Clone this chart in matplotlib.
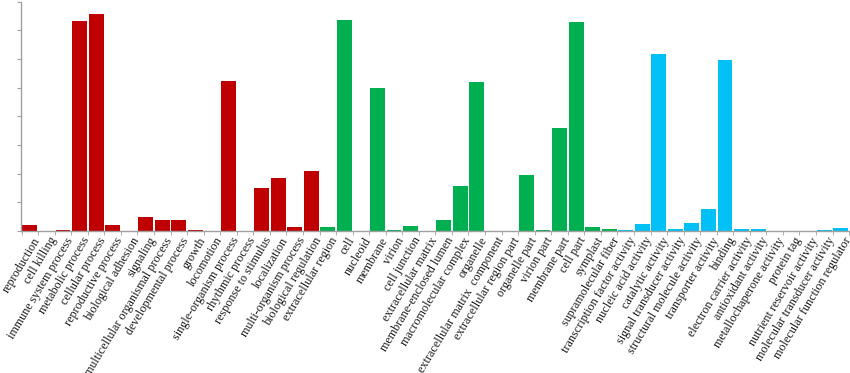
import matplotlib
matplotlib.use("Agg")
import matplotlib.pyplot as plt
import matplotlib.transforms as mtransforms
import numpy as np

bp_terms = ["reproduction", "cell killing", "immune system process", "metabolic process",
            "cellular process", "reproductive process", "biological adhesion", "signaling",
            "multicellular organismal process", "developmental process", "growth", "locomotion",
            "single-organism process", "rhythmic process", "response to stimulus", "localization",
            "multi-organism process", "biological regulation"]
bp_values = [0.22, 0.0, 0.03, 7.33, 7.56, 0.22, 0.0, 0.49, 0.38, 0.39, 0.03, 0.0,
             5.23, 0.0, 1.49, 1.85, 0.13, 2.1]

cc_terms = ["extracellular region", "cell", "nucleoid", "membrane", "virion", "cell junction",
            "extracellular matrix", "membrane-enclosed lumen", "macromolecular complex", "organelle",
            "extracellular matrix  component", "extracellular region part", "organelle part",
            "virion part", "membrane part", "cell part", "symplast", "supramolecular fiber"]
cc_values = [0.13, 7.35, 0.0, 5.0, 0.02, 0.16, 0.0, 0.39, 1.56, 5.19, 0.01, 0.01,
             1.96, 0.02, 3.61, 7.3, 0.15, 0.05]

mf_terms = ["transcription factor activity", "nucleic acid activity", "catalytic activity",
            "signal transducer activity", "structural molecule activity", "transporter activity",
            "binding", "electron carrier activity", "antioxidant activity",
            "metallochaperone activity", "protein tag", "nutrient reservoir activity",
            "molecular transducer activity", "molecular function regulator"]
mf_values = [0.04, 0.23, 6.19, 0.08, 0.27, 0.76, 5.98, 0.05, 0.05, 0.0, 0.0, 0.0, 0.03, 0.1]

labels = bp_terms + cc_terms + mf_terms
values = bp_values + cc_values + mf_values
colors = (["#C00000"] * len(bp_terms) + ["#00B050"] * len(cc_terms)
          + ["#00C0F5"] * len(mf_terms))

fig = plt.figure(figsize=(8.5, 3.73), dpi=100)
ax = fig.add_axes([0.025, 0.381, 0.974, 0.614])
x = np.arange(len(labels))
ax.bar(x, values, width=0.9, color=colors, edgecolor="none")

ax.set_xlim(-0.52, len(labels) - 0.5)
ax.set_ylim(0, 8)
ax.set_yticks(np.arange(0, 9, 1))
ax.set_yticklabels([])
ax.tick_params(axis="y", length=3, color="#A0A0A0", direction="out")

ax.set_xticks(x)
ax.set_xticklabels(labels, rotation=59, ha="right", rotation_mode="anchor",
                   fontsize=8.7, family="Liberation Serif", color="#1a1a1a")
ax.tick_params(axis="x", length=0, pad=3)
offset = mtransforms.ScaledTranslation(2.5 / 100, 0, fig.dpi_scale_trans)
for lab in ax.get_xticklabels():
    lab.set_transform(lab.get_transform() + offset)
ax.set_xticks(np.arange(-0.5, len(labels), 1), minor=True)
ax.tick_params(axis="x", which="minor", length=3, color="#A0A0A0", direction="out")

for s in ["top", "right"]:
    ax.spines[s].set_visible(False)
for s in ["left", "bottom"]:
    ax.spines[s].set_color("#A0A0A0")
    ax.spines[s].set_linewidth(1.0)

fig.savefig("out.png", dpi=100)
